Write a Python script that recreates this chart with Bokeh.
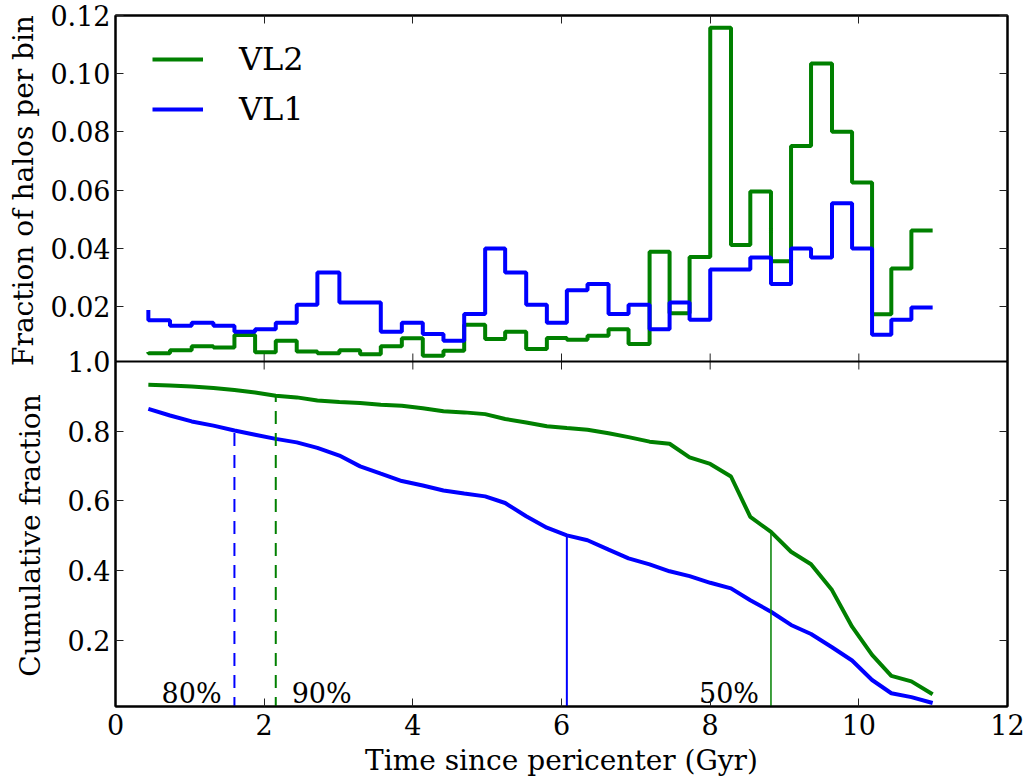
import math
from bokeh.plotting import figure
from bokeh.models import (Range1d, LinearAxis, FixedTicker, Legend, LegendItem,
                          ColumnDataSource, Span, CustomJSTickFormatter)
from bokeh.layouts import row
from bokeh.embed import file_html
from bokeh.resources import INLINE
from bokeh.core.properties import value

# ---------------- data ----------------
time_gyr = [0.442, 0.733, 1.025, 1.317, 1.600, 1.878, 2.156, 2.438, 2.716, 3.012,
            3.291, 3.569, 3.852, 4.134, 4.412, 4.691, 4.973, 5.242, 5.525, 5.803,
            6.072, 6.350, 6.633, 6.902, 7.185, 7.454, 7.723, 8.001, 8.280, 8.540,
            8.818, 9.088, 9.357, 9.639, 9.909, 10.178, 10.437, 10.707, 10.993]

vl2_frac = [0.0045, 0.0040, 0.0051, 0.0064, 0.0060, 0.0103, 0.0044, 0.0083, 0.0046, 0.0040,
            0.0051, 0.0037, 0.0064, 0.0092, 0.0032, 0.0049, 0.0138, 0.0089, 0.0114, 0.0055,
            0.0093, 0.0087, 0.0100, 0.0123, 0.0072, 0.0389, 0.0178, 0.0371, 0.1158, 0.0412,
            0.0596, 0.0356, 0.0752, 0.1035, 0.0801, 0.0627, 0.0174, 0.0331, 0.0462]

vl1_frac = [0.0189, 0.0154, 0.0135, 0.0145, 0.0135, 0.0114, 0.0123, 0.0145, 0.0207, 0.0318,
            0.0215, 0.0215, 0.0114, 0.0145, 0.0106, 0.0083, 0.0175, 0.0400, 0.0318, 0.0207,
            0.0145, 0.0257, 0.0278, 0.0175, 0.0207, 0.0123, 0.0215, 0.0155, 0.0328, 0.0328,
            0.0369, 0.0278, 0.0400, 0.0369, 0.0555, 0.0400, 0.0104, 0.0155, 0.0197]

vl2_cum = [0.933, 0.931, 0.928, 0.924, 0.918, 0.911, 0.902, 0.897, 0.888, 0.884,
           0.881, 0.876, 0.873, 0.866, 0.857, 0.854, 0.849, 0.835, 0.825, 0.814,
           0.809, 0.804, 0.794, 0.783, 0.770, 0.764, 0.725, 0.706, 0.670, 0.554,
           0.511, 0.454, 0.418, 0.344, 0.239, 0.158, 0.098, 0.082, 0.045]

vl1_cum = [0.864, 0.845, 0.828, 0.816, 0.802, 0.790, 0.778, 0.768, 0.752, 0.730,
           0.699, 0.678, 0.657, 0.644, 0.630, 0.621, 0.613, 0.594, 0.556, 0.523,
           0.501, 0.487, 0.460, 0.435, 0.418, 0.398, 0.384, 0.365, 0.349, 0.315,
           0.282, 0.244, 0.218, 0.180, 0.142, 0.086, 0.048, 0.037, 0.020]

# percentile marker lines: x position, height reached on the cumulative curve
mark_x = [1.600, 2.156, 6.072, 8.818]
mark_top = [0.802, 0.902, 0.501, 0.511]
mark_color = ["#0000ff", "#008000", "#0000ff", "#008000"]
mark_dash = ["13 9", "13 9", "solid", "solid"]
mark_width = [2, 2, 2, 1.5]

pct_labels = ["80%", "90%", "50%"]
pct_x = [0.62, 2.37, 7.85]
pct_y = [0.048, 0.048, 0.048]

x_ticks = [0, 2, 4, 6, 8, 10, 12]
top_ticks = [0.02, 0.04, 0.06, 0.08, 0.10, 0.12]
top_tick_labels = ["0.02", "0.04", "0.06", "0.08", "0.10", "0.12"]
bot_ticks = [0.2, 0.4, 0.6, 0.8, 1.0]
bot_tick_labels = ["0.2", "0.4", "0.6", "0.8", "1.0"]

y_titles = ["Fraction of halos per bin", "Cumulative fraction"]

GREEN = "#008000"
BLUE = "#0000ff"
FONT = "DejaVu Serif"
FS = "27px"
TITLE_FS = "28px"

# ---------------- layout geometry (two stacked panels in one frame) ----------------
W, H = 1033, 784
TITLE_W = 47                             # strip holding the rotated y titles
B_LEFT, B_RIGHT, B_TOP, B_BOTTOM = 115 - TITLE_W, 26, 15, 78
FRAME_H = H - B_TOP - B_BOTTOM          # 691
TOP_H = 346                              # upper panel height (px)
BOT_H = FRAME_H - TOP_H                  # lower panel height (px)

X_LO, X_HI = 0, 12
CUM_LO, CUM_HI = 0.01, 1.0               # lower panel limits
HIST_LO, HIST_HI = 0.0012, 0.12          # upper panel limits

cum_per_px = (CUM_HI - CUM_LO) / BOT_H
hist_per_px = (HIST_HI - HIST_LO) / TOP_H
cum_end = CUM_HI + TOP_H * cum_per_px
hist_start = HIST_LO - BOT_H * hist_per_px


def hist_to_cum(h):
    return CUM_LO + (h - hist_start) * (cum_end - CUM_LO) / (HIST_HI - hist_start)


p = figure(width=W - TITLE_W, height=H, x_range=Range1d(X_LO, X_HI), y_range=Range1d(CUM_LO, cum_end),
           output_backend="svg", toolbar_location=None,
           x_axis_location=None, y_axis_location=None,
           min_border_left=B_LEFT, min_border_right=B_RIGHT,
           min_border_top=B_TOP, min_border_bottom=B_BOTTOM)
p.extra_y_ranges = {"hist": Range1d(hist_start, HIST_HI)}
p.grid.visible = False
p.outline_line_color = "black"
p.outline_line_width = 2
p.background_fill_color = "white"
p.border_fill_color = "white"

blank = CustomJSTickFormatter(code="return ''")


def style_axis(ax, show_labels=True):
    ax.major_tick_in = 8
    ax.major_tick_out = 0
    ax.minor_tick_in = 0
    ax.minor_tick_out = 0
    ax.major_tick_line_color = "#222222"
    ax.major_tick_line_width = 1
    ax.axis_line_color = "black"
    ax.axis_line_width = 2
    ax.major_label_text_font = FONT
    ax.major_label_text_color = "black"
    ax.axis_label_text_font = FONT
    ax.axis_label_text_font_style = "normal"
    ax.axis_label_text_font_size = "28px"
    ax.axis_label_text_color = "black"
    if show_labels:
        ax.major_label_text_font_size = FS
        ax.major_label_standoff = 5
    else:
        ax.formatter = blank
        ax.major_label_text_font_size = "0px"
        ax.major_label_standoff = 0


# y ticks of both panels expressed on the frame's main (cumulative) scale
y_tick_pos = [hist_to_cum(t) for t in top_ticks] + bot_ticks
y_tick_txt = top_tick_labels + bot_tick_labels
overrides = {pos: txt for pos, txt in zip(y_tick_pos, y_tick_txt)}

ax_left = LinearAxis(ticker=FixedTicker(ticks=y_tick_pos), major_label_overrides=overrides)
style_axis(ax_left)
p.add_layout(ax_left, "left")

ax_right = LinearAxis(ticker=FixedTicker(ticks=y_tick_pos))
style_axis(ax_right, show_labels=False)
p.add_layout(ax_right, "right")

ax_bottom = LinearAxis(ticker=FixedTicker(ticks=x_ticks), axis_label="Time since pericenter (Gyr)")
style_axis(ax_bottom)
ax_bottom.major_label_standoff = 7
ax_bottom.axis_label_standoff = 6
p.add_layout(ax_bottom, "below")

ax_top = LinearAxis(ticker=FixedTicker(ticks=x_ticks))
style_axis(ax_top, show_labels=False)
p.add_layout(ax_top, "above")

# panel separator with ticks crossing it
p.add_layout(Span(location=CUM_HI, dimension="width", line_color="black", line_width=2))
tick_half = 8 * cum_per_px
p.segment(x0=x_ticks, y0=[CUM_HI - tick_half] * len(x_ticks),
          x1=x_ticks, y1=[CUM_HI + tick_half] * len(x_ticks),
          line_color="#222222", line_width=1)

src = ColumnDataSource(dict(t=time_gyr, f2=vl2_frac, f1=vl1_frac, c2=vl2_cum, c1=vl1_cum))

# upper panel: histograms
r2 = p.step("t", "f2", source=src, mode="before", line_color=GREEN, line_width=4, y_range_name="hist")
r1 = p.step("t", "f1", source=src, mode="before", line_color=BLUE, line_width=4, y_range_name="hist")

legend = Legend(items=[LegendItem(label="VL2", renderers=[r2]),
                       LegendItem(label="VL1", renderers=[r1])],
                location=(37, FRAME_H - 114), glyph_width=51, glyph_height=40, label_height=40,
                label_standoff=36, spacing=10, padding=0, margin=0,
                label_text_font=FONT, label_text_font_size="32px", label_text_color="black",
                background_fill_alpha=0, border_line_color=None)
p.add_layout(legend, "center")

# lower panel: cumulative fractions
p.line("t", "c2", source=src, line_color=GREEN, line_width=4)
p.line("t", "c1", source=src, line_color=BLUE, line_width=4)

for mx, my, mc, md, mw in zip(mark_x, mark_top, mark_color, mark_dash, mark_width):
    p.segment(x0=[mx], y0=[0.0], x1=[mx], y1=[my], line_color=mc, line_dash=md, line_width=mw)

p.text(x=pct_x, y=pct_y, text=pct_labels, text_font=value(FONT), text_font_size=FS,
       text_color="black", text_baseline="alphabetic", text_align="left")

# ---------------- strip with the two rotated y titles ----------------
# its frame is aligned with the main frame (same top/bottom borders); y counts pixels up from frame bottom
t = figure(width=TITLE_W, height=H, x_range=Range1d(0, TITLE_W), y_range=Range1d(0, FRAME_H),
           output_backend="svg", toolbar_location=None,
           x_axis_location=None, y_axis_location=None, min_border=0,
           min_border_left=0, min_border_right=0,
           min_border_top=B_TOP, min_border_bottom=B_BOTTOM)
t.grid.visible = False
t.outline_line_color = None
t.background_fill_color = "white"
t.border_fill_color = "white"
title_x = [23, 30]
title_y = [BOT_H + TOP_H / 2 - 2, BOT_H / 2 - 1.5]
t.text(x=title_x, y=title_y, text=y_titles, angle=math.pi / 2,
       text_font=value(FONT), text_font_size=TITLE_FS, text_color="black",
       text_align="center", text_baseline="middle")

layout = row(t, p, spacing=0)

with open("out.html", "w") as f:
    f.write(file_html(layout, INLINE))
